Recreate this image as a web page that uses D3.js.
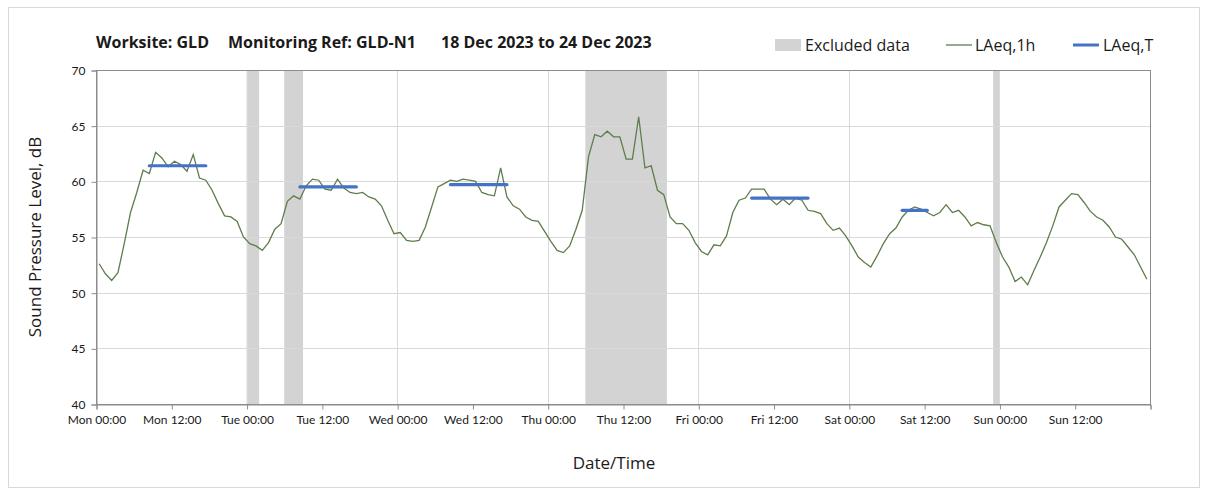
<!DOCTYPE html>
<html>
<head>
<meta charset="utf-8">
<script src="https://cdn.jsdelivr.net/npm/d3@7"></script>
<style>
  html, body { margin: 0; padding: 0; background: #fff; }
  svg text { font-family: "Open Sans", "Noto Sans", sans-serif; fill: #1a1a1a; }
</style>
</head>
<body>
<svg id="chart" width="1208" height="492"></svg>
<script>
// Hourly LAeq,1h readings (dB), one per hour starting Mon 00:00
const laeq1h = [
  52.6, 51.7, 51.1, 51.8, 54.4, 57.2, 59.0, 61.0, 60.7, 62.6, 62.1, 61.3,
  61.8, 61.5, 60.9, 62.4, 60.3, 60.1, 59.2, 58.0, 56.9, 56.8, 56.4, 55.0,
  54.4, 54.2, 53.8, 54.5, 55.7, 56.2, 58.2, 58.7, 58.4, 59.6, 60.2, 60.1,
  59.3, 59.2, 60.2, 59.4, 59.0, 58.9, 59.0, 58.6, 58.4, 57.8, 56.5, 55.3,
  55.4, 54.7, 54.6, 54.7, 55.9, 57.7, 59.5, 59.8, 60.1, 60.0, 60.2, 60.1,
  60.0, 59.0, 58.8, 58.7, 61.2, 58.6, 57.8, 57.5, 56.8, 56.5, 56.4, 55.5,
  54.6, 53.8, 53.6, 54.2, 55.7, 57.4, 62.2, 64.2, 64.0, 64.5, 64.0, 64.0,
  62.0, 62.0, 65.8, 61.2, 61.4, 59.2, 58.8, 56.8, 56.2, 56.2, 55.6, 54.5,
  53.7, 53.4, 54.3, 54.2, 55.1, 57.2, 58.3, 58.5, 59.3, 59.3, 59.3, 58.4,
  57.9, 58.4, 57.9, 58.5, 58.3, 57.4, 57.3, 57.1, 56.2, 55.6, 55.8, 55.1,
  54.2, 53.2, 52.7, 52.3, 53.3, 54.4, 55.3, 55.8, 56.8, 57.4, 57.7, 57.5,
  57.2, 56.9, 57.2, 57.9, 57.2, 57.4, 56.8, 56.0, 56.3, 56.1, 56.0, 54.5,
  53.2, 52.3, 51.0, 51.4, 50.7, 52.0, 53.2, 54.5, 56.0, 57.7, 58.3, 58.9,
  58.8, 58.1, 57.3, 56.8, 56.5, 55.9, 55.0, 54.8, 54.1, 53.4, 52.3, 51.2
];

// LAeq,T daytime averages: start hour, end hour, level (dB)
const laeqTStart = [8.5, 32.5, 56.5, 104.5, 128.5];
const laeqTEnd   = [17.5, 41.5, 65.5, 113.5, 132.5];
const laeqTValue = [61.4, 59.5, 59.7, 58.5, 57.4];

// Excluded data periods (hours from Mon 00:00)
const excludedStart = [24, 30, 78, 143];
const excludedEnd   = [26, 33, 91, 144];

// Axis ticks
const xTickHours  = [0, 12, 24, 36, 48, 60, 72, 84, 96, 108, 120, 132, 144, 156, 168];
const xTickLabels = ["Mon 00:00", "Mon 12:00", "Tue 00:00", "Tue 12:00", "Wed 00:00", "Wed 12:00",
                     "Thu 00:00", "Thu 12:00", "Fri 00:00", "Fri 12:00", "Sat 00:00", "Sat 12:00",
                     "Sun 00:00", "Sun 12:00", ""];
const yTicks = [40, 45, 50, 55, 60, 65, 70];
const dayGridHours = [24, 48, 72, 96, 120, 144];

// Title parts
const titleParts = ["Worksite: GLD", "Monitoring Ref: GLD-N1", "18 Dec 2023 to 24 Dec 2023"];
const titleX = [96, 228, 441];

const svg = d3.select("#chart");
const plot = { left: 96, right: 1150, top: 70, bottom: 404 };

const x = d3.scaleLinear().domain([0, 168]).range([plot.left, plot.right]);
const y = d3.scaleLinear().domain([40, 70]).range([plot.bottom, plot.top]);

// outer chart frame
svg.append("rect")
  .attr("x", 8.5).attr("y", 7.5).attr("width", 1191).attr("height", 480)
  .attr("fill", "#fff").attr("stroke", "#d9d9d9");

// excluded bands
svg.append("g").selectAll("rect")
  .data(excludedStart.map((s, i) => ({ s, e: excludedEnd[i] })))
  .join("rect")
  .attr("x", d => x(d.s)).attr("width", d => x(d.e) - x(d.s))
  .attr("y", plot.top).attr("height", plot.bottom - plot.top)
  .attr("fill", "#d3d3d3");

// gridlines
const grid = svg.append("g").attr("stroke", "#d9d9d9").attr("stroke-width", 1);
grid.selectAll("line.h").data(yTicks.slice(1, -1)).join("line")
  .attr("x1", plot.left).attr("x2", plot.right)
  .attr("y1", d => Math.round(y(d)) + 0.5).attr("y2", d => Math.round(y(d)) + 0.5);
grid.selectAll("line.v").data(dayGridHours).join("line")
  .attr("y1", plot.top).attr("y2", plot.bottom)
  .attr("x1", d => Math.round(x(d)) + 0.5).attr("x2", d => Math.round(x(d)) + 0.5);

// plot frame
svg.append("rect")
  .attr("x", plot.left + 0.5).attr("y", plot.top + 0.5)
  .attr("width", plot.right - plot.left).attr("height", plot.bottom - plot.top)
  .attr("fill", "none").attr("stroke", "#8c8c8c");

// axes
const xAxis = d3.axisBottom(x).tickValues(xTickHours)
  .tickFormat((d, i) => xTickLabels[i]).tickSize(5).tickPadding(6);
const gx = svg.append("g").attr("transform", `translate(0.5,${plot.bottom + 0.5})`).call(xAxis);
gx.select(".domain").attr("stroke", "#8c8c8c");
gx.selectAll(".tick line").attr("stroke", "#8c8c8c");

const yAxis = d3.axisLeft(y).tickValues(yTicks).tickSize(5).tickPadding(6);
const gy = svg.append("g").attr("transform", `translate(${plot.left + 0.5},0.5)`).call(yAxis);
gy.select(".domain").attr("stroke", "#8c8c8c");
gy.selectAll(".tick line").attr("stroke", "#8c8c8c");

svg.selectAll(".tick text")
  .attr("font-size", 12).attr("fill", "#1a1a1a")
  .style("font-family", "Lato, 'Noto Sans', sans-serif");

// LAeq,1h line
const line = d3.line().x((d, i) => x(i + 0.5)).y(d => y(d));
svg.append("path").datum(laeq1h)
  .attr("d", line).attr("fill", "none")
  .attr("stroke", "#5e7d4c").attr("stroke-width", 1.3).attr("stroke-linejoin", "miter");

// LAeq,T segments
svg.append("g").selectAll("line")
  .data(laeqTValue.map((v, i) => ({ v, s: laeqTStart[i], e: laeqTEnd[i] })))
  .join("line")
  .attr("x1", d => x(d.s)).attr("x2", d => x(d.e))
  .attr("y1", d => y(d.v)).attr("y2", d => y(d.v))
  .attr("stroke", "#4472c4").attr("stroke-width", 3.2).attr("stroke-linecap", "round");

// title
svg.append("g").selectAll("text").data(titleParts).join("text")
  .attr("x", (d, i) => titleX[i]).attr("y", 48)
  .attr("font-size", 16).attr("font-weight", "bold")
  .text(d => d);

// legend
const lg = svg.append("g").attr("font-size", 16);
lg.append("rect").attr("x", 775).attr("y", 39).attr("width", 26).attr("height", 12).attr("fill", "#d3d3d3");
lg.append("text").attr("x", 805).attr("y", 51).text("Excluded data");
lg.append("line").attr("x1", 946).attr("x2", 972).attr("y1", 45).attr("y2", 45)
  .attr("stroke", "#5e7d4c").attr("stroke-width", 1.3);
lg.append("text").attr("x", 975).attr("y", 51).text("LAeq,1h");
lg.append("line").attr("x1", 1073).attr("x2", 1099).attr("y1", 45).attr("y2", 45)
  .attr("stroke", "#4472c4").attr("stroke-width", 3);
lg.append("text").attr("x", 1103).attr("y", 51).text("LAeq,T");

// axis titles
svg.append("text").attr("x", 614).attr("y", 469).attr("text-anchor", "middle")
  .attr("font-size", 17).text("Date/Time");
svg.append("text")
  .attr("transform", `translate(41,${(plot.top + plot.bottom) / 2}) rotate(-90)`)
  .attr("text-anchor", "middle").attr("font-size", 17).text("Sound Pressure Level, dB");
</script>
</body>
</html>
